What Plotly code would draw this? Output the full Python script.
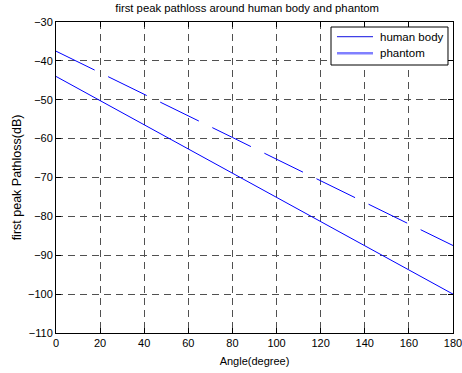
import plotly.graph_objects as go

# Angle samples (degree) and first-peak pathloss (dB)
angle = [0, 20, 40, 60, 80, 100, 120, 140, 160, 180]
human_body = [-44.0, -50.2, -56.4, -62.7, -68.9, -75.1, -81.3, -87.6, -93.8, -100.0]
phantom = [-37.5, -43.0, -48.6, -54.2, -59.7, -65.3, -70.8, -76.4, -81.9, -87.5]

x_ticks = [0, 20, 40, 60, 80, 100, 120, 140, 160, 180]
y_ticks = [-110, -100, -90, -80, -70, -60, -50, -40, -30]

legend_names = ["human body", "phantom"]
legend_colors = ["#1010e0", "#8080ff"]
legend_widths = [1, 2.5]

font_family = "Liberation Sans, Arial, sans-serif"

fig = go.Figure()

fig.add_trace(go.Scatter(
    x=angle, y=human_body, mode="lines", name="human body", showlegend=False,
    line=dict(color="#0000ff", width=1),
))
fig.add_trace(go.Scatter(
    x=angle, y=phantom, mode="lines", name="phantom", showlegend=False,
    line=dict(color="#0000ff", width=1, dash="43px,15px"),
))

axis_common = dict(
    showline=True, linecolor="black", linewidth=1, mirror="ticks",
    ticks="inside", ticklen=5, tickcolor="black",
    showgrid=True, gridcolor="#505050", gridwidth=1, griddash="7px,5px",
    zeroline=False, ticklabeloverflow="allow", automargin=False,
    tickfont=dict(family=font_family, size=11, color="black"),
)

fig.update_xaxes(
    range=[0, 180], tickvals=x_ticks,
    title=dict(text="Angle(degree)", font=dict(family=font_family, size=11, color="black"), standoff=9),
    **axis_common,
)
fig.update_yaxes(
    range=[-110, -30], tickvals=y_ticks,
    title=dict(text="first peak Pathloss(dB)", font=dict(family=font_family, size=12.5, color="black"), standoff=3),
    **axis_common,
)

# legend box drawn in plot-area coordinates
box_x0, box_x1, box_y0, box_y1 = 0.6927, 0.9874, 0.8617, 0.9839
row_y = [0.9527, 0.8994]
fig.add_shape(type="rect", xref="x domain", yref="y domain",
              x0=box_x0, x1=box_x1, y0=box_y0, y1=box_y1,
              line=dict(color="black", width=1), fillcolor="white", layer="above")
for name, color, width, yy in zip(legend_names, legend_colors, legend_widths, row_y):
    fig.add_shape(type="line", xref="x domain", yref="y domain",
                  x0=0.7078, x1=0.7985, y0=yy, y1=yy,
                  line=dict(color=color, width=width), layer="above")
    fig.add_annotation(xref="x domain", yref="y domain", x=0.8111, y=yy,
                       xanchor="left", yanchor="middle", showarrow=False,
                       text=name, font=dict(family=font_family, size=11.5, color="black"))

fig.update_layout(
    width=462, height=373,
    margin=dict(l=56, r=9, t=22, b=40),
    paper_bgcolor="white", plot_bgcolor="white",
    showlegend=False,
    title=dict(
        text="first peak pathloss around human body and phantom",
        font=dict(family=font_family, size=11.3, color="black"),
        x=0.535, xanchor="center", y=0.978, yanchor="middle",
    ),
)

fig.write_html("out.html")
